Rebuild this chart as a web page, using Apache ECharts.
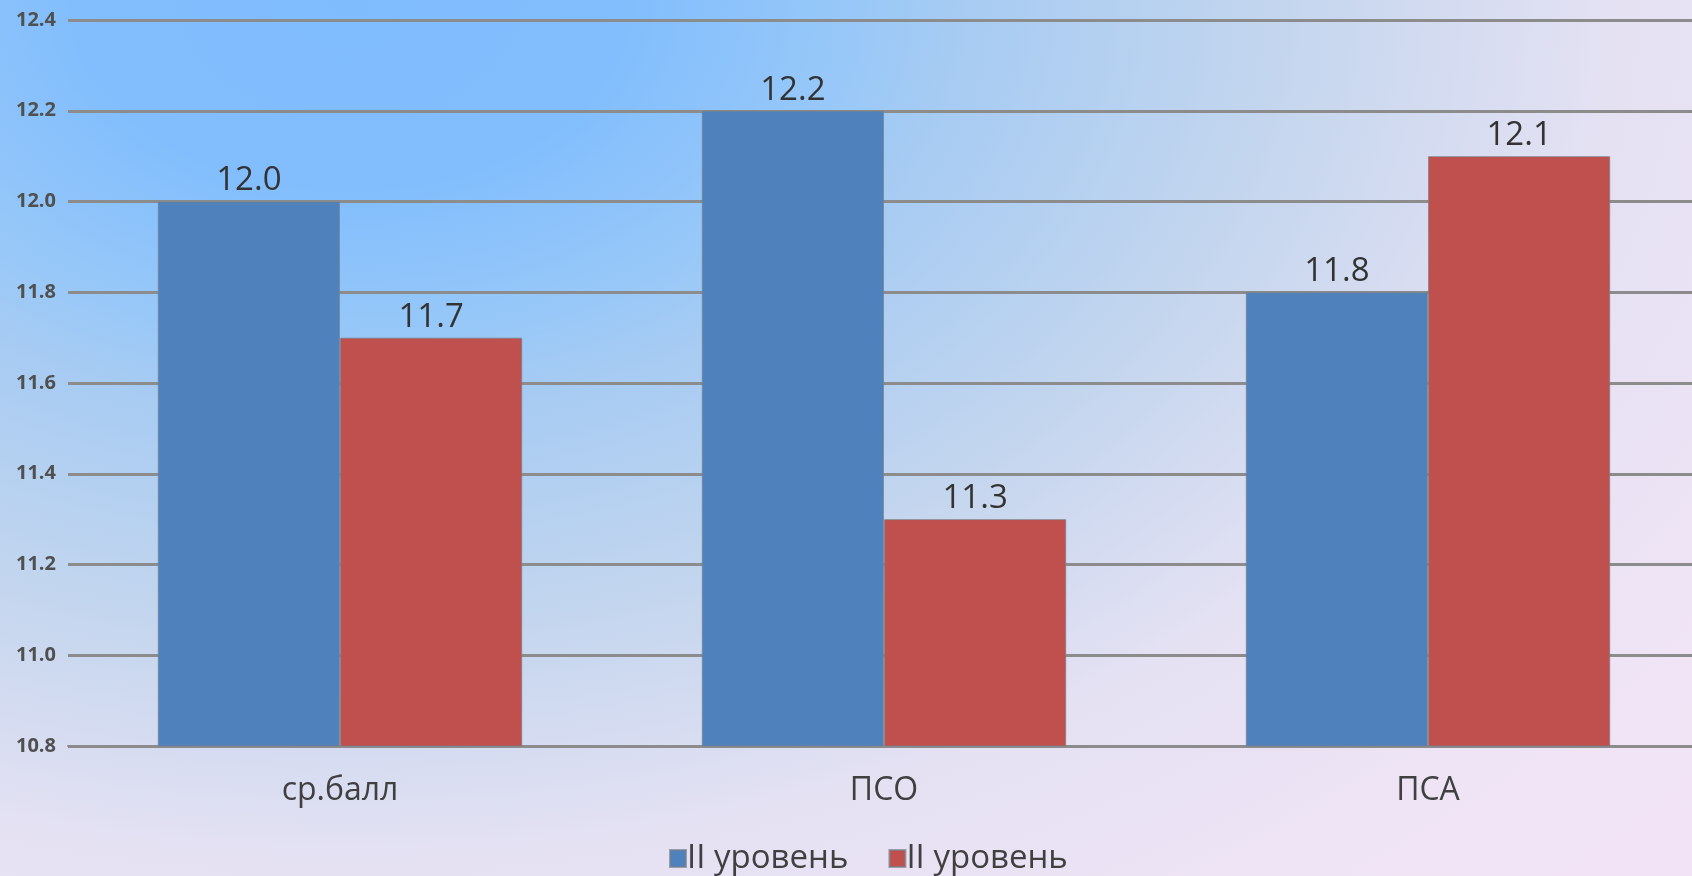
<!DOCTYPE html>
<html>
<head>
<meta charset="utf-8">
<script src="https://cdn.jsdelivr.net/npm/echarts@6/dist/echarts.min.js"></script>
<style>
html,body{margin:0;padding:0;width:1692px;height:876px;overflow:hidden;}
body{background:
 radial-gradient(ellipse 1400px 950px at 350px 0px, #7fbcfe 0%, #82befd 20%, #98c8f8 36%, #a6cbf3 43%, #c4d6ee 67%, #e4e1f3 90%, #efe4f5 115%, #f2e4f6 130%);}
#c{width:1692px;height:876px;}
</style>
</head>
<body>
<div id="c"></div>
<script>
var categories = ['ср.балл', 'ПСО', 'ПСА'];
var seriesNames = ['II уровень', 'II уровень'];
var blueValues = [12.0, 12.2, 11.8];
var redValues = [11.7, 11.3, 12.1];

var chart = echarts.init(document.getElementById('c'));
var font = '"Open Sans", "Noto Sans", sans-serif';
chart.setOption({
  backgroundColor: 'transparent',
  animation: false,
  textStyle: {fontFamily: font},
  grid: {left: 68, width: 1632, top: 20, bottom: 130, containLabel: false, outerBoundsMode: 'none'},
  legend: {
    top: 842, left: 669, itemWidth: 16, itemHeight: 17, itemGap: 40,
    padding: 0,
    icon: 'rect',
    textStyle: {fontSize: 33, color: '#404040', fontFamily: font, padding: [0,0,0,-4]},
    data: [{name: 'A'}, {name: 'B'}],
    formatter: function (n) { return n === 'A' ? seriesNames[0] : seriesNames[1]; }
  },
  xAxis: {
    type: 'category', data: categories,
    axisLine: {show: true, lineStyle: {color: '#8c8c8c', width: 2}},
    axisTick: {show: false},
    axisLabel: {fontSize: 32, color: '#404040', margin: 29, fontFamily: font}
  },
  yAxis: {
    type: 'value', min: 10.8, max: 12.4, interval: 0.2,
    axisLine: {show: false}, axisTick: {show: false},
    axisLabel: {fontSize: 20, fontWeight: 'bold', color: '#505050', margin: 12,
      formatter: function (v) { return v.toFixed(1); }, fontFamily: font},
    splitLine: {lineStyle: {color: '#8c8c8c', width: 3}}
  },
  series: [
    {name: 'A', type: 'bar', data: blueValues, barGap: '0%', barCategoryGap: '33%',
     itemStyle: {color: '#4f81bd', borderColor: 'rgba(120,130,140,0.7)', borderWidth: 1},
     label: {show: true, position: 'top', distance: 4, fontSize: 33, color: '#333',
       formatter: function (p) { return p.value.toFixed(1); }, fontFamily: font}},
    {name: 'B', type: 'bar', data: redValues,
     itemStyle: {color: '#c0504d', borderColor: 'rgba(120,130,140,0.7)', borderWidth: 1},
     label: {show: true, position: 'top', distance: 4, fontSize: 33, color: '#333',
       formatter: function (p) { return p.value.toFixed(1); }, fontFamily: font}}
  ]
});
</script>
</body>
</html>
